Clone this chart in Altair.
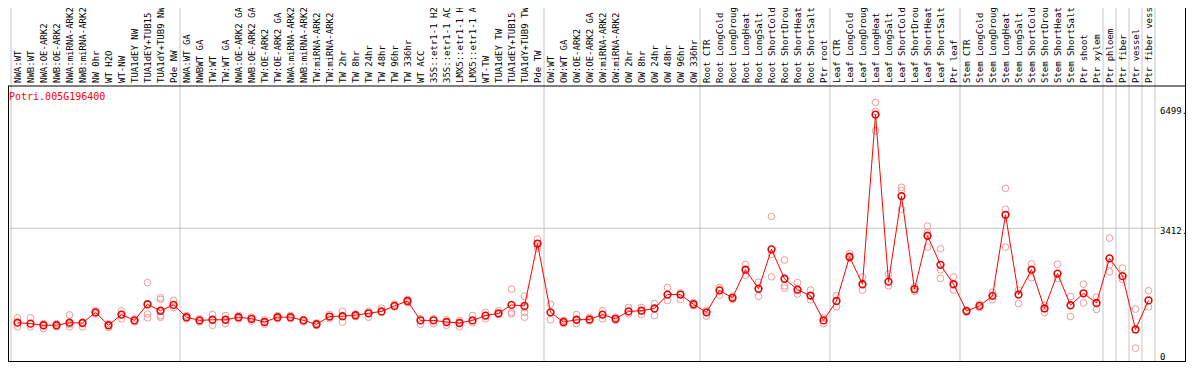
import altair as alt
import pandas as pd

gene = "Potri.005G196400"

labels = [
    "NWA:WT", "NWB:WT", "NWA:OE-ARK2", "NWB:OE-ARK2", "NWA:miRNA-ARK2", "NWB:miRNA-ARK2",
    "NW 0hr", "WT H2O", "WT-NW", "TUA1dEY NW", "TUA1dEY+TUB15", "TUA1dY+TUB9 NW", "Pde NW",
    "NWA:WT GA", "NWBWT GA", "TW:WT", "TW:WT GA", "NWA:OE-ARK2 GA", "NWB:OE-ARK2 GA",
    "TW:OE-ARK2", "TW:OE-ARK2 GA", "NWA:miRNA-ARK2", "NWB:miRNA-ARK2", "TW:miRNA-ARK2",
    "TW:miRNA-ARK2", "TW 2hr", "TW 8hr", "TW 24hr", "TW 48hr", "TW 96hr", "TW 336hr",
    "WT ACC", "35S::etr1-1 H2O", "35S::etr1-1 ACC", "LMX5::etr1-1 H2O", "LMX5::etr1-1 ACC",
    "WT-TW", "TUA1dEY TW", "TUA1dEY+TUB15", "TUA1dY+TUB9 TW", "Pde TW",
    "OW:WT", "OW:WT GA", "OW:OE-ARK2", "OW:OE-ARK2 GA", "OW:miRNA-ARK2", "OW:miRNA-ARK2",
    "OW 2hr", "OW 8hr", "OW 24hr", "OW 48hr", "OW 96hr", "OW 336hr",
    "Root CTR", "Root LongCold", "Root LongDroug", "Root LongHeat", "Root LongSalt",
    "Root ShortCold", "Root ShortDrou", "Root ShortHeat", "Root ShortSalt", "Ptr root",
    "Leaf CTR", "Leaf LongCold", "Leaf LongDroug", "Leaf LongHeat", "Leaf LongSalt",
    "Leaf ShortCold", "Leaf ShortDrou", "Leaf ShortHeat", "Leaf ShortSalt", "Ptr leaf",
    "Stem CTR", "Stem LongCold", "Stem LongDroug", "Stem LongHeat", "Stem LongSalt",
    "Stem ShortCold", "Stem ShortDrou", "Stem ShortHeat", "Stem ShortSalt", "Ptr shoot",
    "Ptr xylem", "Ptr phloem", "Ptr fiber", "Ptr vessel", "Ptr fiber vess",
]

means = [
    850, 824, 780, 780, 850, 842, 1131, 780, 1070, 912, 1350, 1175, 1333,
    999, 912, 929, 929, 999, 956, 868, 999, 999, 912, 807, 1017, 1026, 1052, 1105, 1157,
    1306, 1438, 912, 912, 868, 842, 912, 1043, 1105, 1333, 1306, 2998,
    1131, 868, 929, 938, 1070, 956, 1157, 1175, 1236, 1613, 1613, 1350,
    1131, 1727, 1525, 2288, 1771, 2840, 2043, 1745, 1587, 912,
    1438, 2639, 1894, 6499, 1964, 4287, 1762, 3209, 2420, 1894,
    1166, 1306, 1578, 3779, 1613, 2288, 1236, 2183, 1324, 1648,
    1385, 2595, 2113, 666, 1455,
]

reps = [
    [982, 736], [982, 736], [824, 693], [824, 736], [1061, 807, 736], [868, 736],
    [1175, 1087], [824, 719], [1175, 956], [956, 868], [1937, 1087, 982],
    [1525, 1482, 1043, 999], [1455, 1262],
    [1043, 956], [956, 868], [1070, 780], [1043, 824], [1043, 956], [999, 894],
    [929, 807], [1043, 956], [1043, 956], [929, 868], [842, 771], [1070, 956],
    [1157, 868], [1087, 1017], [1157, 999], [1245, 1131], [1350, 1280], [1482, 1394],
    [956, 807], [956, 824], [929, 780], [912, 736], [1043, 850], [1131, 956],
    [1175, 1070], [1762, 1131, 1087], [1569, 1262, 1131, 999], [3121, 2928, 2867],
    [1350, 929], [912, 824], [1070, 824], [999, 894], [1175, 956], [999, 912],
    [1262, 1087], [1262, 1070], [1368, 1043], [1806, 1455], [1657, 1482], [1394, 1306],
    [1192, 1026], [1806, 1596], [1569, 1482], [2428, 2139], [1946, 1569],
    [3735, 2709, 2095], [2551, 1850, 1788], [1937, 1631], [1736, 1473], [973, 824],
    [1587, 1280], [2727, 2595], [2087, 1736], [6829, 6584, 6058], [2174, 1850],
    [4524, 4436, 3928], [1824, 1701], [3472, 3296, 2902], [2858, 2288, 2051], [2087, 1736],
    [1192, 1140], [1350, 1262], [1674, 1473], [4497, 3928, 2902], [1736, 1368],
    [2446, 2069], [1324, 1122], [2437, 2051], [1561, 1017], [1894, 1385],
    [1543, 1210], [3147, 2420, 2227], [2332, 2025], [1219, 158], [1718, 1280],
]

group_bounds = [0, 13, 41, 53, 63, 73, 84, 85, 86, 87, 88]
tick_values = [0, 3412, 6499]
tick_labels = ["0", "3412.", "6499."]

# ---- layout ----
W, H = 1178, 354
COLW = 13
x0 = -9.5 / COLW
xscale = alt.Scale(domain=[x0, x0 + W / COLW], nice=False, zero=False)
zero_px = 346
ppu = (346 - 220.3) / 3412.0
yscale = alt.Scale(domain=[-(H - zero_px) / ppu, zero_px / ppu], nice=False, zero=False)
header_y = 78

mean_df = pd.DataFrame({"idx": list(range(len(labels))), "label": labels, "mean": means})
rep_rows = [(i, v) for i, rs in enumerate(reps) for v in rs]
rep_df = pd.DataFrame(rep_rows, columns=["idx", "value"])
bound_df = pd.DataFrame({"b": group_bounds})
tick_df = pd.DataFrame({"v": tick_values, "t": tick_labels})
one = pd.DataFrame({"a": [0]})

X = lambda f: alt.X(f, scale=xscale, axis=None)
Y = lambda f: alt.Y(f, scale=yscale, axis=None)

vgrid = alt.Chart(bound_df).transform_calculate(xb="datum.b - 0.5").mark_rule(
    color="#c4c4c4", strokeWidth=1
).encode(x=X("xb:Q"), y=alt.value(0), y2=alt.value(H))

hgrid = alt.Chart(tick_df).transform_filter("datum.v == 3412").mark_rule(
    color="#c4c4c4", strokeWidth=1
).encode(y=Y("v:Q"), x=alt.value(0), x2=alt.value(1152))

frame = [
    alt.Chart(one).mark_rule(color="black").encode(x=alt.value(0), x2=alt.value(W), y=alt.value(header_y)),
    alt.Chart(one).mark_rule(color="black").encode(x=alt.value(0), x2=alt.value(W), y=alt.value(H - 0.5)),
    alt.Chart(one).mark_rule(color="black").encode(x=alt.value(0.5), y=alt.value(header_y), y2=alt.value(H)),
    alt.Chart(one).mark_rule(color="black").encode(x=alt.value(W - 0.5), y=alt.value(0), y2=alt.value(H)),
]

rep_pts = alt.Chart(rep_df).mark_point(
    shape="circle", filled=False, size=45, strokeWidth=1, color="#f09a9a", opacity=1
).encode(x=X("idx:Q"), y=Y("value:Q"))

mean_line = alt.Chart(mean_df).mark_line(color="#ff0000", strokeWidth=1).encode(
    x=X("idx:Q"), y=Y("mean:Q"), order="idx:Q"
)

mean_pts = alt.Chart(mean_df).mark_point(
    shape="circle", filled=False, size=45, strokeWidth=1.6, color="#ee0000", opacity=1
).encode(x=X("idx:Q"), y=Y("mean:Q"))

header = alt.Chart(mean_df).mark_text(
    angle=270, align="left", baseline="middle", font="DejaVu Sans Mono", fontSize=9, color="black"
).encode(x=X("idx:Q"), y=alt.value(header_y - 3), text="label:N")

gene_txt = alt.Chart(one).mark_text(
    align="left", baseline="middle", font="DejaVu Sans Mono", fontSize=10, color="#ff0000"
).encode(x=alt.value(1), y=alt.value(89), text=alt.value(gene))

tick_low = alt.Chart(tick_df).transform_filter("datum.v < 5000").mark_text(
    align="left", baseline="middle", font="DejaVu Sans Mono", fontSize=9, color="black", dy=3
).encode(y=Y("v:Q"), x=alt.value(1152), text="t:N")

tick_high = alt.Chart(tick_df).transform_filter("datum.v > 5000").mark_text(
    align="left", baseline="middle", font="DejaVu Sans Mono", fontSize=9, color="black", dy=-4
).encode(y=Y("v:Q"), x=alt.value(1152), text="t:N")

chart = alt.layer(
    vgrid, hgrid, *frame, rep_pts, mean_line, mean_pts, header, gene_txt, tick_low, tick_high
).properties(
    width=W, height=H, autosize=alt.AutoSizeParams(type="none"), padding=0
).configure_view(strokeWidth=0)

chart.save("out.html", embed_options={"renderer": "svg", "actions": False})
